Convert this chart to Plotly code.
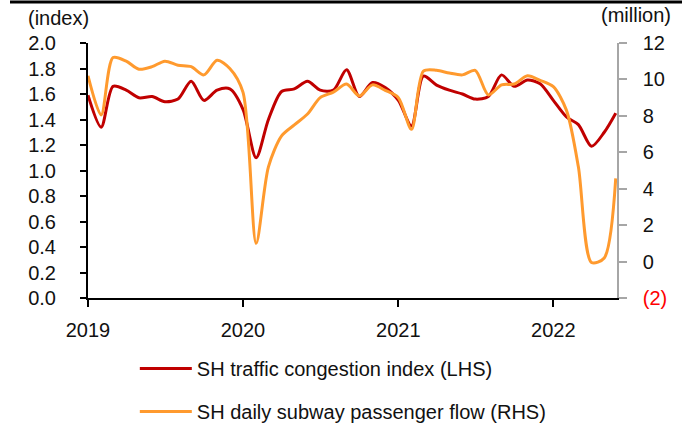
import plotly.graph_objects as go

# monthly readings, Jan 2019 .. May 2022, plus the last point
dates = [f"{y}-{m:02d}-01" for y in range(2019, 2023) for m in range(1, 13)][:41] + ["2022-05-28"]

congestion = [1.59, 1.34, 1.66, 1.63, 1.57, 1.58, 1.54, 1.56, 1.70, 1.55, 1.63, 1.64,
              1.48, 1.10, 1.40, 1.62, 1.64, 1.70, 1.63, 1.63, 1.79, 1.58, 1.69, 1.65,
              1.55, 1.35, 1.74, 1.67, 1.63, 1.60, 1.56, 1.58, 1.75, 1.66, 1.71, 1.68,
              1.55, 1.42, 1.36, 1.19, 1.30, 1.45]

subway = [10.2, 8.05, 11.2, 11.0, 10.56, 10.7, 11.0, 10.78, 10.7, 10.25, 11.05, 10.6,
          9.3, 1.0, 5.2, 6.9, 7.5, 8.1, 9.0, 9.3, 9.75, 9.09, 9.7, 9.4,
          9.0, 7.26, 10.45, 10.5, 10.35, 10.25, 10.5, 9.15, 9.7, 9.75, 10.2, 9.95,
          9.6, 8.3, 5.2, -0.05, 0.2, 4.57]

year_ticks = ["2019-01-01", "2020-01-01", "2021-01-01", "2022-01-01"]
year_labels = ["2019", "2020", "2021", "2022"]
rhs_vals = [-2, 0, 2, 4, 6, 8, 10, 12]
rhs_labels = ["<span style='color:#FF0000'>(2)</span>", "0", "2", "4", "6", "8", "10", "12"]

FONT = "Liberation Sans, Arial, sans-serif"

fig = go.Figure()
fig.add_trace(go.Scatter(
    x=dates, y=congestion, mode="lines", name="SH traffic congestion index (LHS)",
    line=dict(color="#C00000", width=3, shape="spline", smoothing=0.8),
    legendgroup="a"
))
fig.add_trace(go.Scatter(
    x=dates, y=subway, mode="lines", name="SH daily subway passenger flow (RHS)",
    line=dict(color="#FF9A2E", width=3, shape="spline", smoothing=0.8),
    yaxis="y2", legendgroup="b"
))

fig.update_layout(
    width=692, height=428,
    margin=dict(l=88, r=75, t=43, b=130, autoexpand=False),
    paper_bgcolor="white", plot_bgcolor="white",
    font=dict(family=FONT, size=20, color="#111111"),
    showlegend=True,
    legend=dict(x=0.0885, y=-0.2, xanchor="left", yanchor="top",
                traceorder="grouped", tracegroupgap=14, itemwidth=52,
                font=dict(size=20), bgcolor="rgba(0,0,0,0)"),
    xaxis=dict(
        type="date", range=["2019-01-01", "2022-05-31"],
        tickvals=year_ticks, ticktext=year_labels,
        showgrid=False, zeroline=False, automargin=False,
        showline=True, linecolor="#000000", linewidth=2,
        ticks="outside", ticklen=7, tickwidth=2, tickcolor="#000000",
        ticklabelstandoff=6
    ),
    yaxis=dict(
        range=[0, 2.0], dtick=0.2, tickformat=".1f",
        showgrid=False, zeroline=False, automargin=False,
        showline=True, linecolor="#000000", linewidth=2,
        ticks="outside", ticklen=6, tickwidth=2, tickcolor="#000000",
        ticklabelstandoff=20
    ),
    yaxis2=dict(
        range=[-2, 12], tickvals=rhs_vals, ticktext=rhs_labels,
        overlaying="y", side="right",
        showgrid=False, zeroline=False, automargin=False,
        showline=True, linecolor="#A6A6A6", linewidth=1.5,
        ticks="outside", ticklen=8, tickwidth=1.5, tickcolor="#A6A6A6",
        ticklabelstandoff=12
    ),
    annotations=[
        dict(text="(index)", x=58, y=18, xref="paper", yref="paper", showarrow=False),
        dict(text="(million)", x=636, y=15, xref="paper", yref="paper", showarrow=False),
    ],
)

# convert pixel positions of the unit labels to paper coords
for a in fig.layout.annotations:
    a.x = (a.x - 88) / 529
    a.y = (298 - a.y) / 255
    a.xanchor = "center"
    a.yanchor = "middle"

# thin rule along the top edge
fig.add_shape(type="line", xref="paper", yref="paper",
              x0=(10 - 88) / 529, x1=(682 - 88) / 529,
              y0=(298 - 2) / 255, y1=(298 - 2) / 255,
              line=dict(color="#000000", width=3))

# drop the default 8px body margin so the figure sits at the page corner
fig.write_html("out.html", config={"displayModeBar": False},
               post_script="document.body.style.margin='0';")
